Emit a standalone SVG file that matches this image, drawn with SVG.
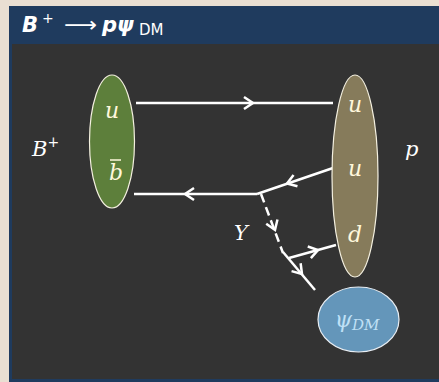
<svg xmlns="http://www.w3.org/2000/svg" width="439" height="382" viewBox="0 0 439 382">
  <style>
    .line { stroke: #ffffff; stroke-width: 2.5; fill: none; stroke-linecap: butt; }
    .dash { stroke: #ffffff; stroke-width: 2.5; fill: none; stroke-dasharray: 9 5; }
    .chev { stroke: #ffffff; stroke-width: 2.5; fill: none; stroke-linejoin: miter; }
    .hadron { stroke: #f4f0e0; stroke-width: 1.2; }
    .q { font-family: "DejaVu Serif", "Liberation Serif", serif; font-style: italic; font-size: 22px; fill: #fff8dc; text-anchor: middle; }
    .lbl { font-family: "DejaVu Serif", "Liberation Serif", serif; font-style: italic; font-size: 21px; fill: #ffffff; }
    .title { font-family: "DejaVu Sans", "Liberation Sans", sans-serif; fill: #ffffff; }
  </style>
  <defs>
    <path id="arrowhead" class="chev" d="M-9,-6 L0,0 L-9,6"/>
  </defs>

  <!-- page background -->
  <rect x="0" y="0" width="439" height="382" fill="#e9dfd2"/>

  <!-- panel -->
  <rect x="9" y="6" width="430" height="376" fill="#1f3b5e"/>
  <rect x="12" y="44" width="427" height="335" fill="#333333"/>

  <!-- title -->
  <g class="title">
    <text x="22" y="32" font-size="21" font-weight="bold" font-style="italic">B</text>
    <text x="42" y="23" font-size="14">+</text>
    <text x="64" y="32" font-size="21" textLength="33" lengthAdjust="spacingAndGlyphs">⟶</text>
    <text x="102" y="32" font-size="21" font-weight="bold" font-style="italic">pψ</text>
    <text x="139" y="35" font-size="15">DM</text>
  </g>

  <!-- connectors -->
  <g id="connectors">
    <line class="line" x1="136" y1="103" x2="333" y2="103"/>
    <use href="#arrowhead" transform="translate(253,103)"/>

    <line class="line" x1="134" y1="194" x2="257" y2="194"/>
    <use href="#arrowhead" transform="translate(185,194) rotate(180)"/>

    <line class="line" x1="333" y1="168" x2="257" y2="194"/>
    <use href="#arrowhead" transform="translate(287,183.5) rotate(161)"/>

    <line class="dash" x1="261" y1="194" x2="283" y2="253"/>
    <use href="#arrowhead" transform="translate(275,230) rotate(69.5)"/>

    <line class="line" x1="283" y1="252" x2="315" y2="290"/>
    <use href="#arrowhead" transform="translate(302,274) rotate(49)"/>

    <line class="line" x1="289" y1="258" x2="336" y2="245"/>
    <use href="#arrowhead" transform="translate(318,250) rotate(-15)"/>
  </g>

  <!-- B+ meson -->
  <g id="meson">
    <ellipse class="hadron" cx="112" cy="141.5" rx="22.5" ry="66.5" fill="#5d7f3b"/>
    <text class="q" x="112" y="118">u</text>
    <text class="q" x="116" y="180">b</text>
    <line x1="110" y1="160" x2="121" y2="160" stroke="#fff8dc" stroke-width="1.5"/>
  </g>

  <!-- proton -->
  <g id="proton">
    <ellipse class="hadron" cx="355" cy="176" rx="23" ry="101" fill="#867b5b"/>
    <text class="q" x="355" y="112">u</text>
    <text class="q" x="355" y="176">u</text>
    <text class="q" x="355" y="242">d</text>
  </g>

  <!-- dark matter -->
  <g id="dm">
    <ellipse cx="358.5" cy="319.5" rx="40.5" ry="32.5" fill="#6496ba" stroke="#e8eef4" stroke-width="1.2"/>
    <text x="357" y="327" font-family="'DejaVu Serif', 'Liberation Serif', serif" font-style="italic" font-size="22" fill="#bfe0f6" text-anchor="middle">ψ<tspan font-size="15" dy="3">DM</tspan></text>
  </g>

  <!-- labels -->
  <text class="lbl" x="32" y="156">B<tspan font-size="14" font-style="normal" dy="-9">+</tspan></text>
  <text class="lbl" x="405" y="156">p</text>
  <text class="lbl" x="234" y="240">Y</text>
</svg>
